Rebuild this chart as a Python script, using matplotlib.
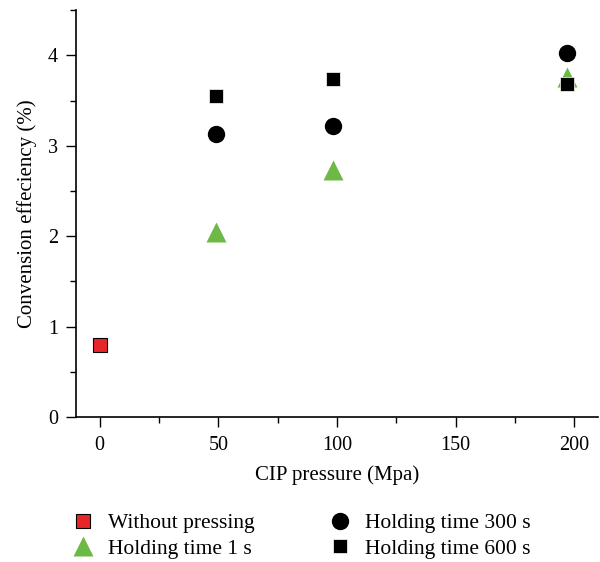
import matplotlib
matplotlib.use("Agg")
import matplotlib.pyplot as plt
from matplotlib.ticker import MultipleLocator

plt.rcParams['font.family'] = ['Liberation Serif', 'DejaVu Serif']

# Data
x_none = [0]
y_none = [0.80]
x_press = [49, 98.5, 197]
y_1s = [2.05, 2.73, 3.76]
y_300s = [3.13, 3.22, 4.03]
y_600s = [3.55, 3.74, 3.68]

labels = ["Without pressing", "Holding time 1 s", "Holding time 300 s", "Holding time 600 s"]
xticks = [0, 50, 100, 150, 200]
yticks = [0, 1, 2, 3, 4]

fig = plt.figure(figsize=(6.0, 5.62), dpi=100)
ax = fig.add_axes([0.1267, 0.258, 0.87, 0.724])

red = '#e8262a'
green = '#6cba45'

h_none, = ax.plot(x_none, y_none, 's', ms=10, mfc=red, mec='black', mew=0.8, ls='none', label=labels[0])
h_1, = ax.plot(x_press, y_1s, '^', ms=14, mfc=green, mec='none', ls='none', label=labels[1])
h_300, = ax.plot(x_press, y_300s, 'o', ms=12.5, mfc='black', mec='none', ls='none', label=labels[2])
h_600, = ax.plot(x_press, y_600s, 's', ms=10.5, mfc='black', mec='white', mew=0.5, ls='none', label=labels[3])

ax.set_xlim(-10, 210)
ax.set_ylim(0, 4.5)
ax.set_xticks(xticks)
ax.set_yticks(yticks)
ax.xaxis.set_minor_locator(MultipleLocator(25))
ax.yaxis.set_minor_locator(MultipleLocator(0.5))
ax.tick_params(which='major', direction='out', length=7, width=1, labelsize=14.5, color='black')
ax.tick_params(which='minor', direction='out', length=4, width=1)
ax.tick_params(axis='x', pad=7)
ax.tick_params(axis='y', pad=6)
ax.spines['top'].set_visible(False)
ax.spines['right'].set_visible(False)
for s in ['left', 'bottom']:
    ax.spines[s].set_linewidth(1.2)

ax.set_xlabel("CIP pressure (Mpa)", fontsize=15, labelpad=7)
ax.set_ylabel("Convension effeciency (%)", fontsize=15, labelpad=8)

fig.legend(handles=[h_none, h_1, h_300, h_600], labels=labels, ncol=2,
           loc='upper left', bbox_to_anchor=(0.106, 0.102), frameon=False,
           fontsize=15.5, handletextpad=0.65, columnspacing=3.5, labelspacing=0.25,
           handlelength=1.0, borderaxespad=0)

fig.savefig("out.png", dpi=100)
